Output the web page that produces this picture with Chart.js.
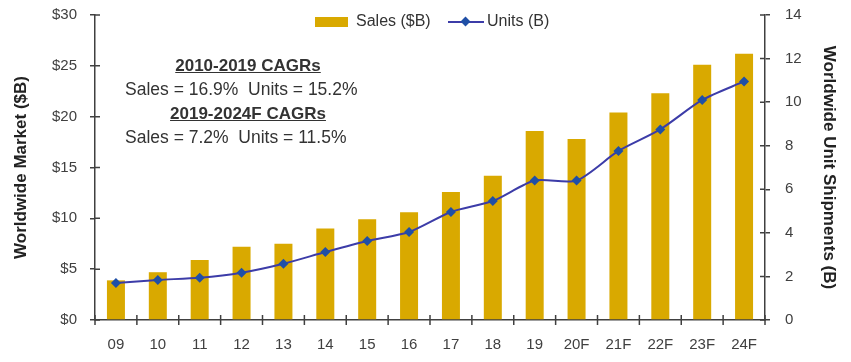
<!DOCTYPE html>
<html>
<head>
<meta charset="utf-8">
<script src="https://cdn.jsdelivr.net/npm/chart.js@4"></script>
<style>
  body { margin: 0; background: #fff; }
  #wrap { position: relative; width: 851px; height: 362px; font-family: "Liberation Sans", Arial, sans-serif; color: #333; }
  canvas { position: absolute; left: 0; top: 0; }
  .head { position: absolute; font-size: 17px; white-space: nowrap; text-align: center; width: 260px; left: 118px; font-weight: bold; text-decoration: underline; }
  .line { position: absolute; font-size: 17.5px; white-space: nowrap; left: 125px; }
  .lg { position: absolute; white-space: nowrap; font-size: 16px; top: 12px; color: #333; }
</style>
</head>
<body>
<div id="wrap">
  <canvas id="barChart" width="851" height="362"></canvas>
  <div style="position:absolute;left:315px;top:17px;width:33px;height:10px;background:#d9a900;"></div>
  <div class="lg" style="left:356px;">Sales ($B)</div>
  <div style="position:absolute;left:448px;top:21px;width:36px;height:2px;background:#3c3ca8;"></div>
  <div style="position:absolute;left:462px;top:18px;width:7px;height:7px;background:#1f4fa6;transform:rotate(45deg);"></div>
  <div class="lg" style="left:487px;">Units (B)</div>
  <div class="head" style="top:56px;">2010-2019 CAGRs</div>
  <div class="line" style="top:79px;">Sales = 16.9%&nbsp; Units = 15.2%</div>
  <div class="head" style="top:104px;">2019-2024F CAGRs</div>
  <div class="line" style="top:127px;">Sales = 7.2%&nbsp; Units = 11.5%</div>
</div>
<script>
var years = ['09', '10', '11', '12', '13', '14', '15', '16', '17', '18', '19', '20F', '21F', '22F', '23F', '24F'];
var sales = [3.9, 4.7, 5.9, 7.2, 7.5, 9.0, 9.9, 10.6, 12.6, 14.2, 18.6, 17.8, 20.4, 22.3, 25.1, 26.2];
var units = [1.7, 1.84, 1.94, 2.17, 2.58, 3.12, 3.63, 4.04, 4.96, 5.46, 6.4, 6.4, 7.76, 8.75, 10.1, 10.95];

var axisColor = '#404040';
var textColor = '#404040';

// tick marks that cross the axis lines
var crossTicks = {
    id: 'crossTicks',
    afterDraw: function (chart) {
        var c = chart.ctx;
        var x = chart.scales.x, yl = chart.scales.y, yr = chart.scales.y2;
        c.save();
        c.strokeStyle = axisColor;
        c.lineWidth = 1.5;
        c.beginPath();
        yl.ticks.forEach(function (t, i) {
            var p = yl.getPixelForTick(i);
            c.moveTo(yl.right, p); c.lineTo(yl.right + 5, p);
        });
        yr.ticks.forEach(function (t, i) {
            var p = yr.getPixelForTick(i);
            c.moveTo(yr.left - 5, p); c.lineTo(yr.left, p);
        });
        var step = (x.right - x.left) / years.length;
        for (var i = 0; i <= years.length; i++) {
            var px = x.left + i * step;
            c.moveTo(px, x.top - 5); c.lineTo(px, x.top + 5);
        }
        c.stroke();
        c.restore();
    }
};

function fixWidth(w) {
    return function (s) {
        s.width = w;
        s.paddingTop = 0;
        s.paddingBottom = 0;
    };
}

var ctx = document.getElementById('barChart').getContext('2d');
var myChart = new Chart(ctx, {
    type: 'bar',
    data: {
        labels: years,
        datasets: [{
            type: 'line',
            label: 'Units (B)',
            data: units,
            yAxisID: 'y2',
            borderColor: '#3c3ca8',
            borderWidth: 2,
            backgroundColor: '#1f4fa6',
            pointStyle: 'rectRot',
            pointRadius: 5,
            pointBorderWidth: 0,
            tension: 0.25,
            order: 0
        }, {
            label: 'Sales ($B)',
            data: sales,
            yAxisID: 'y',
            backgroundColor: '#d9a900',
            barPercentage: 0.43,
            categoryPercentage: 1,
            order: 1
        }]
    },
    options: {
        responsive: false,
        animation: false,
        layout: { padding: { top: 15, left: 0, right: 0, bottom: 0 } },
        plugins: { legend: { display: false }, tooltip: { enabled: false } },
        scales: {
            x: {
                grid: { display: false },
                border: { color: axisColor, width: 1.5 },
                ticks: { color: textColor, font: { size: 15, family: 'Liberation Sans' }, padding: 8, maxRotation: 0 },
                afterFit: function (s) { s.height = 42; }
            },
            y: {
                position: 'left',
                min: 0, max: 30,
                grid: { drawOnChartArea: false, tickLength: 5, color: axisColor, lineWidth: 1.5 },
                border: { color: axisColor, width: 1.5 },
                ticks: { stepSize: 5, color: textColor, font: { size: 15, family: 'Liberation Sans' }, padding: 13,
                    callback: function (v) { return '$' + v; } },
                title: { display: true, text: 'Worldwide Market ($B)', color: '#222', font: { size: 17, weight: 'bold', family: 'Liberation Sans' }, padding: { top: 11, bottom: 0 } },
                afterFit: fixWidth(95)
            },
            y2: {
                position: 'right',
                min: 0, max: 14,
                grid: { drawOnChartArea: false, tickLength: 5, color: axisColor, lineWidth: 1.5 },
                border: { color: axisColor, width: 1.5 },
                ticks: { stepSize: 2, color: textColor, font: { size: 15, family: 'Liberation Sans' }, padding: 15 },
                title: { display: true, text: 'Worldwide Unit Shipments (B)', color: '#222', font: { size: 17, weight: 'bold', family: 'Liberation Sans' }, padding: { top: 12, bottom: 0 } },
                afterFit: fixWidth(86)
            }
        }
    },
    plugins: [crossTicks]
});
</script>
</body>
</html>
